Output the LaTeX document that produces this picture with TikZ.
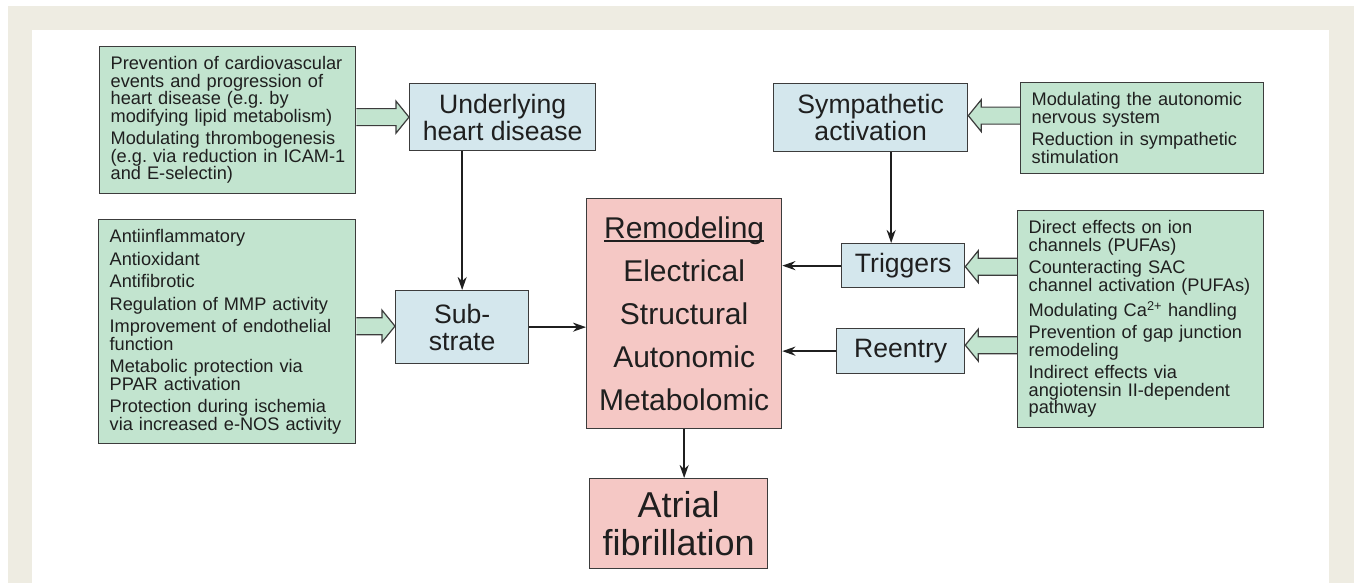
\documentclass[tikz,border=0pt]{standalone}
\usepackage{fontspec}
\setmainfont{Liberation Sans}
\usetikzlibrary{calc,arrows.meta}
\definecolor{bgbeige}{HTML}{EEECE2}
\definecolor{gfill}{HTML}{C2E4CF}
\definecolor{bfill}{HTML}{D4E7ED}
\definecolor{pfill}{HTML}{F5C8C5}
\definecolor{edgec}{HTML}{3C3C3C}
\pgfdeclarelayer{backl}
\pgfdeclarelayer{arrl}
\pgfsetlayers{backl,arrl,main}
\frenchspacing
\newcommand{\ulword}[1]{{\setbox0\hbox{#1}\rlap{\rule[-3.5pt]{\wd0}{1.5pt}}\box0}}
\newcommand{\blkarr}[4]{%
  \draw[blockarrow] let \p1=(#1), \p2=(#2), \n1={#3}, \n2={#4} in
    (\x1,{\y2+\n2+8.5pt}) -- ({\x2-\n1},{\y2+\n2+8.5pt}) -- ({\x2-\n1},{\y2+\n2+16pt})
    -- (\x2,{\y2+\n2}) -- ({\x2-\n1},{\y2+\n2-16pt}) -- ({\x2-\n1},{\y2+\n2-8.5pt})
    -- (\x1,{\y2+\n2-8.5pt});}
\tikzset{
  box/.style={draw=edgec, line width=1.3pt, anchor=north west, inner sep=0pt, text=black!88},
  greenbox/.style={box, fill=gfill, align=left, font=\fontsize{18.2}{17.5}\selectfont, inner xsep=11pt},
  bluebox/.style={box, fill=bfill, align=center, font=\fontsize{26.6}{27}\selectfont},
  pinkbox/.style={box, fill=pfill, align=center},
  conn/.style={draw=black!88, line width=2pt, -{Stealth[length=13pt,width=9pt]}},
  blockarrow/.style={draw=edgec, fill=gfill, line width=1.2pt, line join=miter},
}
\begin{document}
\begin{tikzpicture}[x=1pt,y=-1pt]
\useasboundingbox (0,0) rectangle (1354,583);
\begin{pgfonlayer}{backl}
  \fill[bgbeige] (8,6) rectangle (1354,583);
  \fill[white] (32,30) rectangle (1329,583);
\end{pgfonlayer}

% green boxes
\node[greenbox, minimum width=256pt, minimum height=147pt, text width=234pt] (g1) at (99,46)
  {Prevention of cardiovascular\\ events and progression of\\ heart disease (e.g. by\\ modifying lipid metabolism)\\[5pt]
   Modulating thrombogenesis\\ \mbox{(e.g. via reduction in ICAM-1}\\ and E-selectin)};
\node[greenbox, minimum width=257pt, minimum height=224pt, text width=235pt] (g2) at (98,219)
  {Antiinflammatory\\[5pt] Antioxidant\\[5pt] Antifibrotic\\[5pt] Regulation of MMP activity\\[5pt]
   Improvement of endothelial\\ function\\[5pt] Metabolic protection via\\ PPAR activation\\[5pt]
   Protection during ischemia\\ \mbox{via increased e-NOS activity}};
\node[greenbox, minimum width=243pt, minimum height=91pt, text width=221pt] (g3) at (1020,82)
  {Modulating the autonomic\\ nervous system\\[5pt] Reduction in sympathetic\\ stimulation};
\node[greenbox, minimum width=246pt, minimum height=217pt, text width=224pt] (g4) at (1017,210)
  {Direct effects on ion\\ channels (PUFAs)\\[5pt] Counteracting SAC\\ \mbox{channel activation (PUFAs)}\\[5pt]
   Modulating Ca\textsuperscript{2+} handling\\[5pt] Prevention of gap junction\\ remodeling\\[5pt]
   Indirect effects via\\ \mbox{angiotensin II-dependent}\\ pathway};

% blue boxes
\node[bluebox, minimum width=186pt, minimum height=67pt] (uhd) at (409,83) {Underlying\\ heart disease};
\node[bluebox, minimum width=133pt, minimum height=73pt] (sub) at (395,290) {Sub-\\ strate};
\node[bluebox, minimum width=194pt, minimum height=68pt] (symp) at (773,83) {Sympathetic\\ activation};
\node[bluebox, minimum width=123pt, minimum height=44pt] (trig) at (841,243) {Triggers};
\node[bluebox, minimum width=128pt, minimum height=45pt] (reen) at (836,328) {Reentry};

% pink boxes
\node[pinkbox, minimum width=195pt, minimum height=230pt, font=\fontsize{30}{43}\selectfont] (rem) at (586,198)
  {\ulword{Remodeling}\\ Electrical\\ Structural\\ Autonomic\\ Metabolomic};
\node[pinkbox, minimum width=178pt, minimum height=90pt, font=\fontsize{36}{38}\selectfont] (af) at (589,478)
  {Atrial\\ fibrillation};

% block arrows
\begin{pgfonlayer}{arrl}
  \blkarr{g1.east}{uhd.west}{13pt}{0pt}
  \blkarr{g2.east}{sub.west}{13pt}{1pt}
  \blkarr{g3.west}{symp.east}{-13pt}{2pt}
  \blkarr{g4.west}{trig.east}{-13pt}{-1pt}
  \blkarr{g4.west}{reen.east}{-13pt}{6pt}
\end{pgfonlayer}

% connectors
\coordinate (tn) at ($(trig.north)+(-12,0)$);
\draw[conn] (sub.north |- uhd.south) -- (sub.north);
\draw[conn] (tn |- symp.south) -- (tn);
\draw[conn] (sub.east) -- (sub.east -| rem.west);
\draw[conn] (trig.west) -- (trig.west -| rem.east);
\draw[conn] (reen.west) -- (reen.west -| rem.east);
\draw[conn] (rem.south) -- (rem.south |- af.north);
\end{tikzpicture}
\end{document}
